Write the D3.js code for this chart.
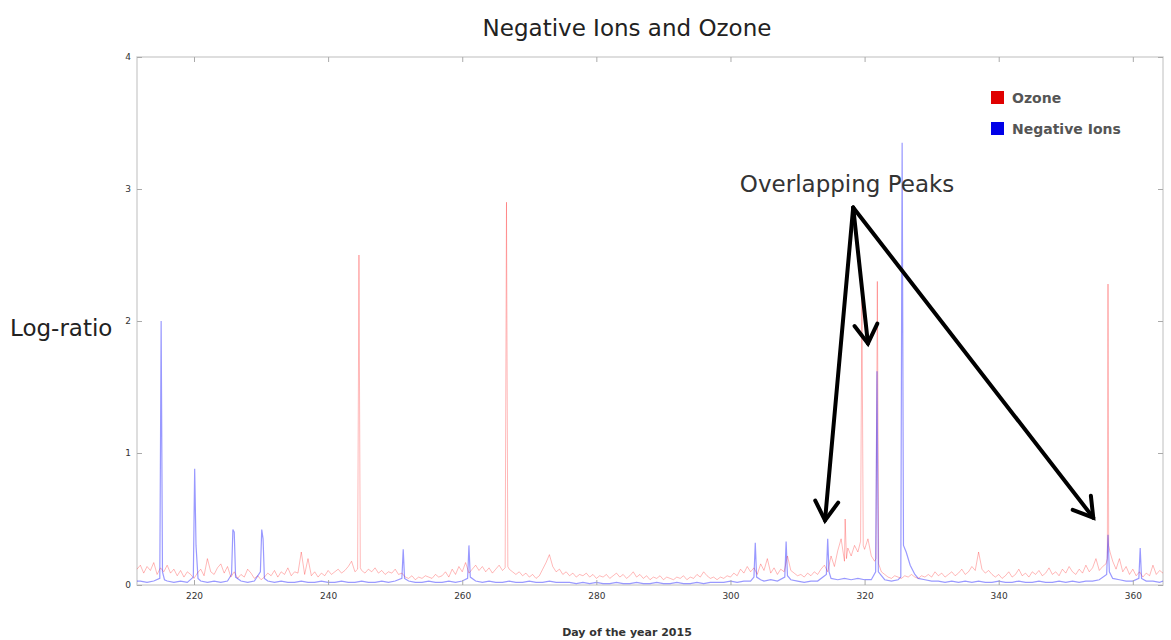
<!DOCTYPE html>
<html>
<head>
<meta charset="utf-8">
<script src="https://cdn.jsdelivr.net/npm/d3@7"></script>
<style>
  body { margin: 0; background: #fff; }
  svg text { font-family: "DejaVu Sans", sans-serif; }
</style>
</head>
<body>
<div id="chart"></div>
<script>
// Day of year ticks and log-ratio ticks
var xTicks = [220, 240, 260, 280, 300, 320, 340, 360];
var yTicks = [0, 1, 2, 3, 4];

// Ozone log-ratio, [day, value]
var ozone = [
  [211.5, .12], [212, .15], [212.5, .09], [213, .14], [213.5, .11], [214, .17], [214.5, .08], [215, .13], [215.5, .1], [216, .15],
  [216.5, .09], [217, .12], [217.5, .07], [218, .11], [218.5, .06], [219, .1], [219.5, .08], [220, .05], [220.5, .09], [221, .12],
  [221.5, .07], [222, .2], [222.5, .1], [223, .08], [223.5, .13], [224, .16], [224.5, .09], [225, .14], [225.5, .06], [226, .1],
  [226.5, .05], [227, .08], [227.5, .06], [228, .12], [228.5, .09], [229, .05], [229.5, .07], [230, .04], [230.5, .06], [231, .09],
  [231.5, .07], [232, .11], [232.5, .06], [233, .1], [233.5, .08], [234, .13], [234.5, .07], [235, .1], [235.5, .09], [236, .25],
  [236.5, .08], [237, .2], [237.5, .07], [238, .1], [238.5, .06], [239, .09], [239.5, .07], [240, .11], [240.5, .08], [241, .1],
  [241.5, .12], [242, .09], [242.5, .11], [243, .14], [243.5, .18], [244, .1], [244.4, .12], [244.6, 2.5], [244.8, .13], [245, .11],
  [245.5, .09], [246, .12], [246.5, .1], [247, .13], [247.5, .09], [248, .11], [248.5, .08], [249, .1], [249.5, .09], [250, .12],
  [250.5, .08], [251, .09], [251.5, .06], [252, .05], [252.5, .07], [253, .04], [253.5, .06], [254, .05], [254.5, .07], [255, .06],
  [255.5, .05], [256, .08], [256.5, .06], [257, .07], [257.5, .1], [258, .06], [258.5, .12], [259, .08], [259.5, .14], [260, .1],
  [260.5, .17], [261, .09], [261.5, .12], [262, .15], [262.5, .11], [263, .14], [263.5, .1], [264, .13], [264.5, .09], [265, .12],
  [265.5, .15], [266, .11], [266.4, .13], [266.6, 2.9], [266.8, .14], [267, .12], [267.5, .1], [268, .08], [268.5, .1], [269, .07],
  [269.5, .09], [270, .06], [270.5, .08], [271, .05], [271.5, .07], [272, .12], [272.5, .17], [273, .23], [273.5, .14], [274, .1],
  [274.5, .12], [275, .08], [275.5, .1], [276, .07], [276.5, .09], [277, .06], [277.5, .08], [278, .07], [278.5, .09], [279, .06],
  [279.5, .08], [280, .05], [280.5, .07], [281, .06], [281.5, .08], [282, .05], [282.5, .07], [283, .09], [283.5, .06], [284, .08],
  [284.5, .05], [285, .07], [285.5, .1], [286, .06], [286.5, .08], [287, .05], [287.5, .07], [288, .04], [288.5, .06], [289, .05],
  [289.5, .07], [290, .04], [290.5, .06], [291, .05], [291.5, .04], [292, .06], [292.5, .05], [293, .07], [293.5, .04], [294, .06],
  [294.5, .05], [295, .08], [295.5, .06], [296, .1], [296.5, .07], [297, .05], [297.5, .06], [298, .04], [298.5, .06], [299, .05],
  [299.5, .07], [300, .06], [300.5, .09], [301, .07], [301.5, .12], [302, .09], [302.5, .14], [303, .1], [303.5, .13], [304, .08],
  [304.5, .16], [305, .11], [305.5, .2], [306, .09], [306.5, .13], [307, .08], [307.5, .12], [308, .1], [308.5, .22], [309, .11],
  [309.5, .09], [310, .07], [310.5, .08], [311, .06], [311.5, .09], [312, .07], [312.5, .1], [313, .08], [313.5, .12], [314, .15],
  [314.5, .1], [315, .22], [315.5, .14], [316, .26], [316.5, .35], [317, .18], [317.1, .5], [317.3, .2], [317.5, .28], [318, .22],
  [318.5, .3], [319, .25], [319.4, .33], [319.6, 2.2], [319.8, .3], [320, .27], [320.5, .35], [321, .22], [321.5, .18], [321.7, .2],
  [321.9, 2.3], [322.1, .16], [322.5, .1], [323, .08], [323.5, .06], [324, .05], [324.5, .07], [325, .06], [325.5, .05], [326, .07],
  [326.5, .06], [327, .08], [327.5, .06], [328, .05], [328.5, .07], [329, .06], [329.5, .08], [330, .06], [330.5, .1], [331, .07],
  [331.5, .09], [332, .06], [332.5, .08], [333, .1], [333.5, .07], [334, .09], [334.5, .12], [335, .08], [335.5, .1], [336, .14],
  [336.5, .11], [337, .25], [337.5, .12], [338, .09], [338.5, .11], [339, .08], [339.5, .06], [340, .08], [340.5, .05], [341, .07],
  [341.5, .1], [342, .06], [342.5, .08], [343, .12], [343.5, .07], [344, .09], [344.5, .06], [345, .1], [345.5, .08], [346, .11],
  [346.5, .07], [347, .09], [347.5, .13], [348, .08], [348.5, .1], [349, .07], [349.5, .12], [350, .09], [350.5, .14], [351, .1],
  [351.5, .08], [352, .12], [352.5, .09], [353, .15], [353.5, .1], [354, .13], [354.5, .2], [355, .11], [355.5, .14], [356, .16],
  [356.2, .2], [356.3, 2.28], [356.4, .3], [356.6, .25], [357, .18], [357.5, .12], [358, .2], [358.5, .1], [359, .14], [359.5, .08],
  [360, .12], [360.5, .07], [361, .1], [361.5, .06], [362, .09], [362.5, .07], [363, .15], [363.5, .08], [364, .11], [364.5, .09]
];

// Negative ions log-ratio, [day, value]
var ions = [
  [211.5, .03], [212, .03], [213, .02], [214, .03], [214.9, .05], [215.1, 2.0], [215.3, .1], [215.6, .04], [216, .03], [217, .02],
  [218, .03], [219, .02], [219.9, .06], [220.1, .88], [220.3, .3], [220.6, .05], [221, .03], [222, .02], [223, .03], [224, .02],
  [225, .03], [225.6, .08], [225.8, .42], [226.0, .4], [226.2, .06], [227, .03], [228, .02], [229, .03], [229.9, .1], [230.1, .42],
  [230.3, .35], [230.5, .05], [231, .03], [232, .02], [233, .03], [234, .02], [235, .02], [236, .03], [237, .02], [238, .02],
  [239, .03], [240, .02], [241, .02], [242, .03], [243, .02], [244, .02], [245, .03], [246, .02], [247, .02], [248, .03],
  [249, .02], [250, .03], [251.0, .05], [251.2, .27], [251.4, .05], [252, .03], [253, .02], [254, .02], [255, .03], [256, .02],
  [257, .02], [258, .03], [259, .02], [260, .03], [260.8, .05], [261.0, .3], [261.2, .06], [262, .03], [263, .02], [264, .03],
  [265, .02], [266, .02], [267, .03], [268, .02], [269, .02], [270, .03], [271, .02], [272, .02], [273, .03], [274, .02],
  [275, .02], [276, .02], [277, .01], [278, .02], [279, .01], [280, .02], [281, .01], [282, .01], [283, .02], [284, .01],
  [285, .01], [286, .02], [287, .01], [288, .01], [289, .02], [290, .01], [291, .01], [292, .02], [293, .01], [294, .01],
  [295, .02], [296, .01], [297, .02], [298, .02], [299, .02], [300, .03], [301, .02], [302, .03], [303, .03], [303.5, .06],
  [303.7, .32], [303.9, .06], [304.5, .04], [305, .03], [306, .04], [307, .03], [308.1, .06], [308.3, .33], [308.5, .07], [309, .04],
  [310, .03], [311, .02], [312, .03], [313, .03], [314.3, .08], [314.5, .35], [314.7, .1], [315, .05], [316, .04], [317, .05],
  [318, .04], [319, .05], [320, .04], [321, .04], [321.65, .1], [321.85, 1.62], [322.05, .1], [323, .04], [324, .03], [325, .04],
  [325.4, .06], [325.6, 3.35], [325.8, .3], [326.2, .25], [326.8, .15], [327.5, .08], [328, .05], [329, .04], [330, .03], [331, .03],
  [332, .02], [333, .03], [334, .02], [335, .03], [336, .02], [337, .03], [338, .02], [339, .02], [340, .03], [341, .02],
  [342, .02], [343, .03], [344, .02], [345, .02], [346, .03], [347, .02], [348, .02], [349, .03], [350, .02], [351, .03],
  [352, .02], [353, .03], [354, .03], [355, .04], [356.1, .08], [356.3, .38], [356.5, .1], [357, .05], [358, .04], [359, .03],
  [360, .03], [360.9, .05], [361.1, .28], [361.3, .05], [362, .03], [363, .03], [364, .02], [364.5, .03]
];

// annotation: arrows from one apex to three overlapping peaks, [day, value]
var arrowApex = [318.3, 2.86];
var arrowTargets = [[314.1, 0.49], [320.5, 1.83], [354.1, 0.51]];

var width = 1171,
  height = 640;
var margin = { top: 57, right: 8, bottom: 55, left: 137 };

var svg = d3.select("#chart")
  .append("svg")
  .attr("width", width)
  .attr("height", height);

var xScale = d3.scaleLinear()
  .domain([211.5, 364.5])
  .range([margin.left, width - margin.right]);

var yScale = d3.scaleLinear()
  .domain([0, 4])
  .range([height - margin.bottom, margin.top]);

// plot box
svg.append("rect")
  .attr("x", margin.left)
  .attr("y", margin.top)
  .attr("width", width - margin.right - margin.left)
  .attr("height", height - margin.bottom - margin.top)
  .attr("fill", "none")
  .attr("stroke", "#d4d4d4")
  .attr("stroke-width", 1.5);

var line = d3.line()
  .x(d => xScale(d[0]))
  .y(d => yScale(d[1]));

svg.append("path")
  .datum(ozone)
  .attr("d", line)
  .attr("fill", "none")
  .attr("stroke", "rgba(255,0,0,0.28)")
  .attr("stroke-width", 1);

svg.append("path")
  .datum(ions)
  .attr("d", line)
  .attr("fill", "none")
  .attr("stroke", "rgba(0,0,255,0.4)")
  .attr("stroke-width", 1.2);

// axes, ticks pointing inward
var xAxis = d3.axisBottom(xScale).tickValues(xTicks).tickSizeInner(-5).tickSizeOuter(0).tickPadding(8);
var xAxisTop = d3.axisTop(xScale).tickValues(xTicks).tickSizeInner(-5).tickSizeOuter(0).tickFormat("");
var yAxis = d3.axisLeft(yScale).tickValues(yTicks).tickFormat(d3.format("d"))
  .tickSizeInner(-5).tickSizeOuter(0).tickPadding(6);
var yAxisRight = d3.axisRight(yScale).tickValues(yTicks).tickSizeInner(-5).tickSizeOuter(0).tickFormat("");

function styleAxis(g) {
  g.select(".domain").remove();
  g.selectAll("line").attr("stroke", "#aaa");
  g.selectAll("text").attr("font-size", "9px").attr("fill", "#333")
    .style("font-family", "'DejaVu Sans', sans-serif");
}

svg.append("g")
  .attr("transform", `translate(0,${height - margin.bottom})`)
  .call(xAxis).call(styleAxis);
svg.append("g")
  .attr("transform", `translate(0,${margin.top})`)
  .call(xAxisTop).call(styleAxis);
svg.append("g")
  .attr("transform", `translate(${margin.left},0)`)
  .call(yAxis).call(styleAxis);
svg.append("g")
  .attr("transform", `translate(${width - margin.right},0)`)
  .call(yAxisRight).call(styleAxis);

// titles
svg.append("text")
  .attr("x", 627)
  .attr("y", 36)
  .attr("text-anchor", "middle")
  .attr("font-size", "23px")
  .attr("fill", "#222")
  .text("Negative Ions and Ozone");

svg.append("text")
  .attr("x", 10)
  .attr("y", 336)
  .attr("font-size", "23px")
  .attr("fill", "#222")
  .text("Log-ratio");

svg.append("text")
  .attr("x", 627)
  .attr("y", 636)
  .attr("text-anchor", "middle")
  .attr("font-size", "11px")
  .attr("font-weight", "bold")
  .attr("fill", "#333")
  .text("Day of the year 2015");

// legend
var legend = [["Ozone", "#e00000"], ["Negative Ions", "#0000e8"]];
legend.forEach(function(l, i) {
  svg.append("rect")
    .attr("x", 991)
    .attr("y", 91 + i * 31)
    .attr("width", 13)
    .attr("height", 13)
    .attr("fill", l[1]);
  svg.append("text")
    .attr("x", 1012)
    .attr("y", 103 + i * 31)
    .attr("font-size", "14px")
    .attr("font-weight", "bold")
    .attr("fill", "#555")
    .text(l[0]);
});

// annotation
svg.append("text")
  .attr("x", xScale(301.4))
  .attr("y", yScale(2.98))
  .attr("font-size", "23px")
  .attr("fill", "#333")
  .text("Overlapping Peaks");

arrowTargets.forEach(function(t) {
  var x0 = xScale(arrowApex[0]), y0 = yScale(arrowApex[1]);
  var x1 = xScale(t[0]), y1 = yScale(t[1]);
  var ang = Math.atan2(y1 - y0, x1 - x0);
  var len = 22, spread = 0.55;
  svg.append("line")
    .attr("x1", x0).attr("y1", y0)
    .attr("x2", x1).attr("y2", y1)
    .attr("stroke", "#000")
    .attr("stroke-width", 4)
    .attr("stroke-linecap", "round");
  svg.append("path")
    .attr("d", d3.line()([
      [x1 - len * Math.cos(ang - spread), y1 - len * Math.sin(ang - spread)],
      [x1, y1],
      [x1 - len * Math.cos(ang + spread), y1 - len * Math.sin(ang + spread)]
    ]))
    .attr("fill", "none")
    .attr("stroke", "#000")
    .attr("stroke-width", 4)
    .attr("stroke-linejoin", "miter")
    .attr("stroke-linecap", "round");
});
</script>
</body>
</html>
